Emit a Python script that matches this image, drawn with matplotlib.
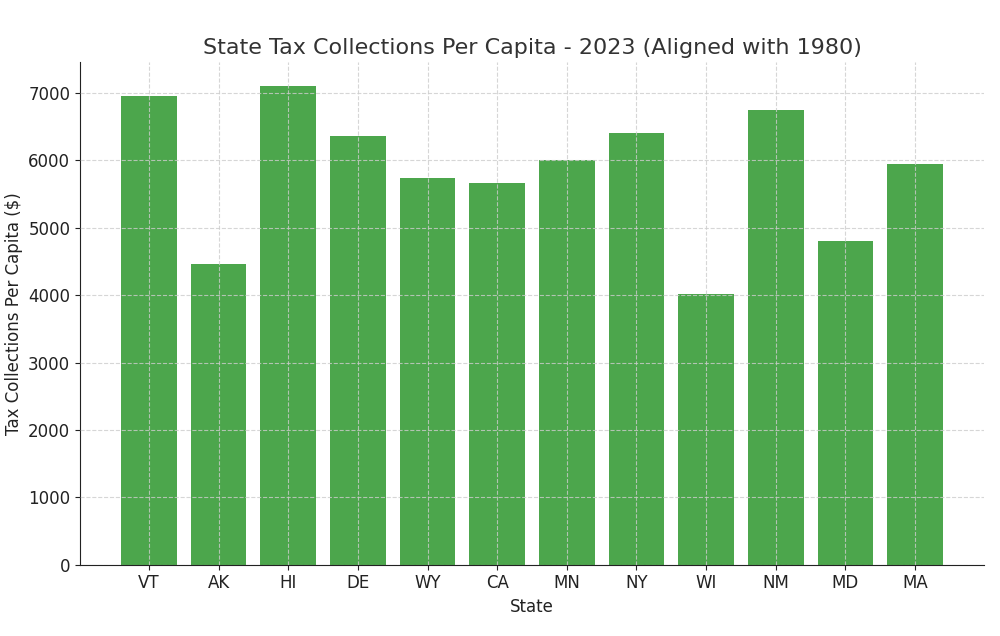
import matplotlib
matplotlib.use("Agg")
import matplotlib.pyplot as plt

plt.rcParams["font.family"] = ["DejaVu Sans"]

states = ["VT", "AK", "HI", "DE", "WY", "CA", "MN", "NY", "WI", "NM", "MD", "MA"]
collections = [6950, 4460, 7100, 6360, 5735, 5665, 6005, 6400, 4015, 6745, 4805, 5945]

fig, ax = plt.subplots(figsize=(10, 6.36), dpi=100)
ax.bar(states, collections, color="green", alpha=0.7, zorder=2)
ax.set_title("State Tax Collections Per Capita - 2023 (Aligned with 1980)", fontsize=16, color="#333333")
ax.set_xlabel("State", fontsize=12, color="#222222")
ax.set_ylabel("Tax Collections Per Capita ($)", fontsize=12, color="#222222")
ax.tick_params(labelsize=12, colors="#222222")
ax.set_axisbelow(False)
ax.grid(True, linestyle="--", color="#cccccc", linewidth=0.8, alpha=0.8, zorder=3)
ax.spines["top"].set_visible(False)
ax.spines["right"].set_visible(False)
ax.spines["left"].set_color("#222222")
ax.spines["bottom"].set_color("#222222")
fig.subplots_adjust(left=0.08, right=0.984, top=0.902, bottom=0.112)
fig.savefig("out.png", dpi=100)
